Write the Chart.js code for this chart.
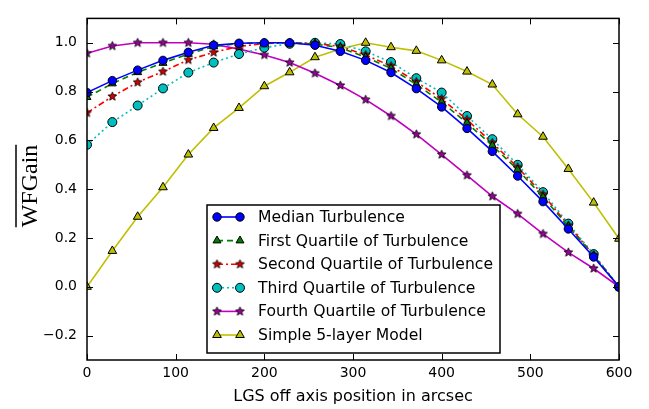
<!DOCTYPE html>
<html>
<head>
<meta charset="utf-8">
<script src="https://cdn.jsdelivr.net/npm/chart.js@4.4.1/dist/chart.umd.min.js"></script>
<style>
  html, body { margin: 0; padding: 0; background: #fff; }
</style>
</head>
<body>
<canvas id="chart" width="649" height="409"></canvas>
<script>
// LGS off-axis positions (arcsec)
const xPositions = [0, 28.57, 57.14, 85.71, 114.29, 142.86, 171.43, 200, 228.57, 257.14, 285.71,
  314.29, 342.86, 371.43, 400, 428.57, 457.14, 485.71, 514.29, 542.86, 571.43, 600];

const medianTurb = [0.796, 0.845, 0.888, 0.928, 0.961, 0.99, 0.998, 1.0, 1.0, 0.99, 0.965,
  0.928, 0.878, 0.812, 0.737, 0.649, 0.555, 0.454, 0.349, 0.237, 0.122, 0.0];
const firstQuartile = [0.777, 0.833, 0.879, 0.917, 0.954, 0.985, 0.997, 1.0, 1.0, 0.995, 0.98,
  0.941, 0.895, 0.829, 0.757, 0.671, 0.579, 0.48, 0.368, 0.247, 0.128, 0.0];
const secondQuartile = [0.713, 0.78, 0.838, 0.882, 0.93, 0.961, 0.985, 0.997, 1.0, 0.998, 0.985,
  0.95, 0.905, 0.84, 0.77, 0.685, 0.59, 0.49, 0.378, 0.252, 0.13, 0.0];
const thirdQuartile = [0.582, 0.675, 0.743, 0.813, 0.878, 0.919, 0.954, 0.98, 0.996, 1.0, 0.995,
  0.965, 0.921, 0.855, 0.796, 0.7, 0.605, 0.5, 0.388, 0.259, 0.134, 0.0];
const fourthQuartile = [0.957, 0.987, 1.0, 1.0, 1.0, 0.994, 0.974, 0.95, 0.919, 0.875, 0.825,
  0.767, 0.7, 0.625, 0.542, 0.457, 0.371, 0.299, 0.217, 0.141, 0.075, 0.0];
const simpleModel = [0.0, 0.147, 0.287, 0.408, 0.542, 0.651, 0.733, 0.822, 0.879, 0.941, 0.975,
  1.0, 0.982, 0.967, 0.928, 0.882, 0.829, 0.707, 0.615, 0.483, 0.345, 0.197];

const seriesNames = [
  "Median Turbulence",
  "First Quartile of Turbulence",
  "Second Quartile of Turbulence",
  "Third Quartile of Turbulence",
  "Fourth Quartile of Turbulence",
  "Simple 5-layer Model"
];

const xTicks = [0, 100, 200, 300, 400, 500, 600];
const yTicks = [-0.2, 0.0, 0.2, 0.4, 0.6, 0.8, 1.0];

// filled star marker with black edge (Chart.js "star" is only an asterisk)
function makeStar(fill, r) {
  const c = document.createElement("canvas");
  const s = Math.ceil(r * 2 + 3);
  c.width = s; c.height = s;
  const g = c.getContext("2d");
  g.translate(s / 2, s / 2);
  g.beginPath();
  for (let i = 0; i < 10; i++) {
    const rad = i % 2 === 0 ? r : r * 0.45;
    const a = -Math.PI / 2 + i * Math.PI / 5;
    g.lineTo(Math.cos(a) * rad, Math.sin(a) * rad);
  }
  g.closePath();
  g.fillStyle = fill;
  g.fill();
  g.strokeStyle = "#000";
  g.lineWidth = 0.8;
  g.stroke();
  return c;
}

const redStar = makeStar("#d00000", 4.6);
const purpleStar = makeStar("#9a009a", 4.6);

function toPoints(ys) {
  return xPositions.map((x, i) => ({ x: x, y: ys[i] }));
}

const datasets = [
  { label: seriesNames[0], data: toPoints(medianTurb), borderColor: "#0000ff", backgroundColor: "#0000ff",
    borderDash: [], pointStyle: "circle", pointRadius: 4.2 },
  { label: seriesNames[1], data: toPoints(firstQuartile), borderColor: "#007f00", backgroundColor: "#007f00",
    borderDash: [6, 4], pointStyle: "triangle", pointRadius: 4.6 },
  { label: seriesNames[2], data: toPoints(secondQuartile), borderColor: "#ff0000", backgroundColor: "#ff0000",
    borderDash: [6, 3, 2, 3], pointStyle: redStar, pointRadius: 5 },
  { label: seriesNames[3], data: toPoints(thirdQuartile), borderColor: "#00bfbf", backgroundColor: "#00bfbf",
    borderDash: [2, 3], pointStyle: "circle", pointRadius: 4.5 },
  { label: seriesNames[4], data: toPoints(fourthQuartile), borderColor: "#bf00bf", backgroundColor: "#bf00bf",
    borderDash: [], pointStyle: purpleStar, pointRadius: 5 },
  { label: seriesNames[5], data: toPoints(simpleModel), borderColor: "#bfbf00", backgroundColor: "#bfbf00",
    borderDash: [], pointStyle: "triangle", pointRadius: 5 }
].map(d => Object.assign(d, {
  borderWidth: 1.6,
  pointBorderColor: "#000",
  pointBorderWidth: 1,
  tension: 0,
  fill: false
}));

// frame, inward ticks on all sides, overlined y label, boxed legend inside the axes
const decorations = {
  id: "decorations",
  afterDraw(chart) {
    const ctx = chart.ctx;
    const a = chart.chartArea;
    const xs = chart.scales.x, ys = chart.scales.y;
    ctx.save();

    ctx.strokeStyle = "#000";
    ctx.lineWidth = 1;
    xTicks.forEach(v => {
      const px = Math.round(xs.getPixelForValue(v)) + 0.5;
      ctx.beginPath();
      ctx.moveTo(px, a.bottom); ctx.lineTo(px, a.bottom - 6);
      ctx.moveTo(px, a.top); ctx.lineTo(px, a.top + 6);
      ctx.stroke();
    });
    yTicks.forEach(v => {
      const py = Math.round(ys.getPixelForValue(v)) + 0.5;
      ctx.beginPath();
      ctx.moveTo(a.left, py); ctx.lineTo(a.left + 6, py);
      ctx.moveTo(a.right, py); ctx.lineTo(a.right - 6, py);
      ctx.stroke();
    });
    ctx.lineWidth = 1.5;
    ctx.strokeRect(a.left, a.top, a.right - a.left, a.bottom - a.top);

    // y axis label: WFGain with an overline
    ctx.translate(37, 186);
    ctx.rotate(-Math.PI / 2);
    ctx.font = "24px 'Liberation Serif'";
    ctx.fillStyle = "#000";
    ctx.textAlign = "center";
    ctx.textBaseline = "alphabetic";
    ctx.fillText("WFGain", 0, 0);
    const w = ctx.measureText("WFGain").width;
    ctx.lineWidth = 1.5;
    ctx.beginPath();
    ctx.moveTo(-w / 2, -21); ctx.lineTo(w / 2, -21);
    ctx.stroke();
    ctx.setTransform(1, 0, 0, 1, 0, 0);

    // legend
    const lx = 207, ly = 205, lw = 293, lh = 148;
    ctx.fillStyle = "#fff";
    ctx.fillRect(lx, ly, lw, lh);
    ctx.lineWidth = 1.5;
    ctx.strokeStyle = "#000";
    ctx.strokeRect(lx, ly, lw, lh);
    ctx.font = "15.6px 'DejaVu Sans'";
    ctx.textAlign = "left";
    ctx.textBaseline = "middle";
    chart.data.datasets.forEach((ds, i) => {
      const y = 217 + i * 23.6;
      ctx.strokeStyle = ds.borderColor;
      ctx.lineWidth = ds.borderWidth;
      ctx.setLineDash(ds.borderDash);
      ctx.beginPath();
      ctx.moveTo(217, y); ctx.lineTo(240, y);
      ctx.stroke();
      ctx.setLineDash([]);
      [217, 240].forEach(mx => {
        ctx.fillStyle = ds.backgroundColor;
        ctx.strokeStyle = "#000";
        ctx.lineWidth = 1;
        Chart.helpers.drawPoint(ctx, {
          pointStyle: ds.pointStyle, radius: ds.pointRadius, borderWidth: 1, rotation: 0
        }, mx, y);
      });
      ctx.fillStyle = "#000";
      ctx.fillText(ds.label, 258, y + 1);
    });
    ctx.restore();
  }
};

new Chart(document.getElementById("chart"), {
  type: "line",
  data: { datasets: datasets },
  options: {
    responsive: false,
    animation: false,
    layout: { padding: { top: 6, right: 30, left: 0, bottom: 0 } },
    plugins: { legend: { display: false }, tooltip: { enabled: false } },
    scales: {
      x: {
        type: "linear",
        min: 0, max: 600,
        afterBuildTicks: s => { s.ticks = xTicks.map(v => ({ value: v })); },
        afterFit: s => { s.height = 49; },
        grid: { display: false, drawTicks: false },
        border: { display: false },
        ticks: { color: "#000", font: { family: "DejaVu Sans", size: 14 }, padding: 5, maxRotation: 0 },
        title: { display: true, text: "LGS off axis position in arcsec", color: "#000",
          font: { family: "DejaVu Sans", size: 16 }, padding: { top: 0, bottom: 3 } }
      },
      y: {
        min: -0.3, max: 1.1,
        afterBuildTicks: s => { s.ticks = yTicks.map(v => ({ value: v })); },
        afterFit: s => { s.width = 87; },
        grid: { display: false, drawTicks: false },
        border: { display: false },
        ticks: { color: "#000", font: { family: "DejaVu Sans", size: 14 }, padding: 10,
          callback: v => v.toFixed(1).replace("-", "\u2212") }
      }
    }
  },
  plugins: [decorations]
});
</script>
</body>
</html>
